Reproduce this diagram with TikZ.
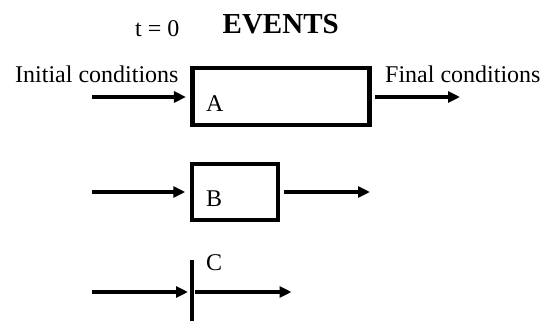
\documentclass[tikz,border=0pt]{standalone}
\usepackage{fontspec}
\setmainfont{Liberation Serif}
\usepackage{tikz}
\usetikzlibrary{arrows.meta, positioning}

\begin{document}
\begin{tikzpicture}[x=1pt, y=-1pt,
    flow/.style={-{Triangle[length=12pt, width=11pt]}, line width=3.2pt},
    eventbox/.style={draw, line width=4.5pt, inner sep=0pt},
    txt/.style={font=\fontsize{24}{28}\selectfont, inner sep=0pt, anchor=base west}]

    \useasboundingbox (0, 0) rectangle (546, 321);

    % Heading
    \node[txt] at (135, 37) (tzero) {t = 0};
    \node[txt, font=\fontsize{29}{34}\selectfont\bfseries] at (222.5, 33.3) (title) {EVENTS};

    % Event A
    \node[eventbox, minimum width=177pt, minimum height=57pt] at (281.2, 96.4) (boxA) {};
    \node[txt] at (206, 111.5) (labA) {A};
    \node[txt] at (15, 82.5) (initial) {Initial conditions};
    \node[txt] at (385, 82.5) (final) {Final conditions};
    \coordinate (inA) at (92, 97);
    \coordinate (outA) at (460, 97);

    % Event B
    \node[eventbox, minimum width=86pt, minimum height=56pt] at (235, 192) (boxB) {};
    \node[txt] at (206, 206.5) (labB) {B};
    \coordinate (inB) at (92, 192);
    \coordinate (outB) at (370, 192);

    % Event C
    \coordinate (barTop) at (192, 260);
    \coordinate (barBot) at (192, 321);
    \coordinate (barMid) at (192, 292);
    \node[txt] at (206, 270.5) (labC) {C};
    \coordinate (inC) at (92, 292);
    \coordinate (outC) at (291.5, 292);
    \draw[line width=4.5pt] (barTop) -- (barBot);

    % Arrows
    \draw[flow, shorten >=4.5pt] (inA) -- (boxA.west |- inA);
    \draw[flow, shorten <=3.5pt] (boxA.east |- outA) -- (outA);
    \draw[flow, shorten >=4.5pt] (inB) -- (boxB.west);
    \draw[flow, shorten <=3.5pt] (boxB.east) -- (outB);
    \draw[flow, shorten >=4pt] (inC) -- (barMid);
    \draw[flow, shorten <=3pt] (barMid) -- (outC);

\end{tikzpicture}
\end{document}
